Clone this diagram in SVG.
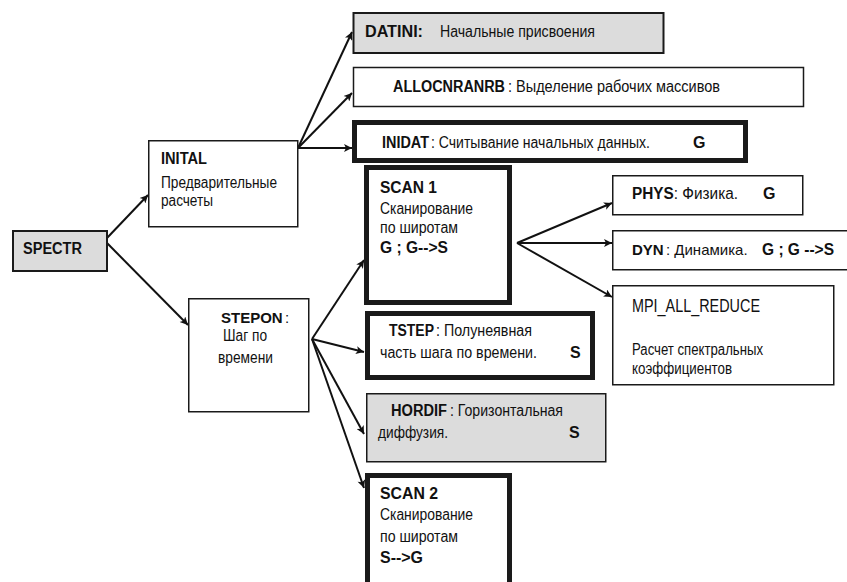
<svg xmlns="http://www.w3.org/2000/svg" width="847" height="582" viewBox="0 0 847 582">
<style>
  .box { fill: #ffffff; stroke: #1a1a1a; stroke-width: 1.5; }
  .gray { fill: #dcdcdc; }
  .mid { stroke-width: 2; }
  .thick { stroke-width: 5; }
  text { font-family: "Liberation Sans", Arial, sans-serif; font-size: 16px; fill: #111111; }
  .b { font-weight: bold; }
  .s15 { font-size: 15px; }
  .big { font-size: 18px; }
  .conn line { stroke: #111111; stroke-width: 2; fill: none; }
</style>
<defs>
  <marker id="ah" viewBox="0 0 10 10" refX="10" refY="5" markerWidth="10" markerHeight="8" markerUnits="userSpaceOnUse" orient="auto">
    <path d="M0,0 L10,5 L0,10 L2.5,5 z" fill="#111111"/>
  </marker>
</defs>
<rect width="847" height="582" fill="#ffffff"/>

<g id="connectors" class="conn">
  <line x1="107" y1="238" x2="148" y2="195" marker-end="url(#ah)"/>
  <line x1="107" y1="243" x2="188" y2="325" marker-end="url(#ah)"/>
  <line x1="298" y1="148" x2="352" y2="32" marker-end="url(#ah)"/>
  <line x1="298" y1="148" x2="352" y2="93" marker-end="url(#ah)"/>
  <line x1="298" y1="148" x2="352" y2="148" marker-end="url(#ah)"/>
  <line x1="312" y1="339" x2="364" y2="260" marker-end="url(#ah)"/>
  <line x1="312" y1="339" x2="364" y2="352" marker-end="url(#ah)"/>
  <line x1="312" y1="339" x2="364" y2="434" marker-end="url(#ah)"/>
  <line x1="312" y1="339" x2="364" y2="488" marker-end="url(#ah)"/>
  <line x1="517" y1="243" x2="612" y2="203" marker-end="url(#ah)"/>
  <line x1="517" y1="243" x2="612" y2="243" marker-end="url(#ah)"/>
  <line x1="517" y1="243" x2="612" y2="297" marker-end="url(#ah)"/>
</g>

<g id="spectr">
  <rect class="box gray mid" x="13" y="231" width="94" height="40"/>
  <text class="b" x="23" y="254" textLength="59" lengthAdjust="spacingAndGlyphs">SPECTR</text>
</g>

<g id="inital">
  <rect class="box" x="148.75" y="140.75" width="149" height="86"/>
  <text class="b" x="161" y="164" textLength="46" lengthAdjust="spacingAndGlyphs">INITAL</text>
  <text x="161" y="188" textLength="116" lengthAdjust="spacingAndGlyphs">Предварительные</text>
  <text x="161" y="206" textLength="52" lengthAdjust="spacingAndGlyphs">расчеты</text>
</g>

<g id="datini">
  <rect class="box gray mid" x="353.5" y="13" width="310" height="40"/>
  <text class="b" x="365" y="37" textLength="58" lengthAdjust="spacingAndGlyphs">DATINI:</text>
  <text x="440" y="37" textLength="155" lengthAdjust="spacingAndGlyphs">Начальные присвоения</text>
</g>

<g id="allocnranrb">
  <rect class="box" x="353.5" y="67.5" width="450" height="39"/>
  <text class="b" x="393" y="92" textLength="112" lengthAdjust="spacingAndGlyphs">ALLOCNRANRB</text>
  <text x="508" y="92" textLength="212" lengthAdjust="spacingAndGlyphs">:  Выделение рабочих массивов</text>
</g>

<g id="inidat">
  <rect class="box thick" x="354.5" y="122.5" width="391" height="38"/>
  <text class="b" x="382" y="148" textLength="47" lengthAdjust="spacingAndGlyphs">INIDAT</text>
  <text x="431" y="148" textLength="219" lengthAdjust="spacingAndGlyphs">: Считывание начальных данных.</text>
  <text class="b" x="693" y="148">G</text>
</g>

<g id="scan1">
  <rect class="box thick" x="366.5" y="167.5" width="143" height="135"/>
  <text class="b" x="380" y="193" textLength="57" lengthAdjust="spacingAndGlyphs">SCAN  1</text>
  <text x="380" y="214" textLength="93" lengthAdjust="spacingAndGlyphs">Сканирование</text>
  <text x="380" y="233" textLength="78" lengthAdjust="spacingAndGlyphs">по широтам</text>
  <text class="b" x="380" y="253" textLength="68" lengthAdjust="spacingAndGlyphs">G ; G--&gt;S</text>
</g>

<g id="phys">
  <rect class="box" x="612.75" y="175.75" width="190" height="39"/>
  <text x="632" y="199" textLength="106" lengthAdjust="spacingAndGlyphs"><tspan class="b">PHYS</tspan>: Физика.</text>
  <text class="b" x="763" y="199">G</text>
</g>

<g id="dyn">
  <rect class="box" x="612.75" y="230.75" width="250" height="39"/>
  <text class="b s15" x="632" y="255">DYN</text>
  <text class="s15" x="666" y="255">: Динамика.</text>
  <text class="b" x="762" y="255" textLength="72" lengthAdjust="spacingAndGlyphs">G ; G --&gt;S</text>
</g>

<g id="mpi_all_reduce">
  <rect class="box" x="612.75" y="285.75" width="221" height="99"/>
  <text class="big" x="632" y="312" textLength="128" lengthAdjust="spacingAndGlyphs">MPI_ALL_REDUCE</text>
  <text x="632" y="355" textLength="131" lengthAdjust="spacingAndGlyphs">Расчет спектральных</text>
  <text x="632" y="374" textLength="100" lengthAdjust="spacingAndGlyphs">коэффициентов</text>
</g>

<g id="stepon">
  <rect class="box" x="188.75" y="298.75" width="120" height="113"/>
  <text class="b s15" x="221" y="323">STEPON</text>
  <text class="s15" x="285" y="323">:</text>
  <text x="223" y="341" textLength="44" lengthAdjust="spacingAndGlyphs">Шаг по</text>
  <text x="218" y="363" textLength="55" lengthAdjust="spacingAndGlyphs">времени</text>
</g>

<g id="tstep">
  <rect class="box thick" x="367.5" y="313.5" width="225" height="64"/>
  <text class="b" x="389" y="336" textLength="45" lengthAdjust="spacingAndGlyphs">TSTEP</text>
  <text x="436" y="336" textLength="96" lengthAdjust="spacingAndGlyphs">: Полунеявная</text>
  <text x="380" y="358" textLength="157" lengthAdjust="spacingAndGlyphs">часть шага по времени.</text>
  <text class="b" x="570" y="358">S</text>
</g>

<g id="hordif">
  <rect class="box gray" x="366.75" y="393.75" width="239" height="68"/>
  <text class="b" x="391" y="416" textLength="56" lengthAdjust="spacingAndGlyphs">HORDIF</text>
  <text x="450" y="416" textLength="113" lengthAdjust="spacingAndGlyphs">: Горизонтальная</text>
  <text x="378" y="438" textLength="70" lengthAdjust="spacingAndGlyphs">диффузия.</text>
  <text class="b" x="569" y="438">S</text>
</g>

<g id="scan2">
  <rect class="box thick" x="367.5" y="475.5" width="142" height="125"/>
  <text class="b" x="380" y="499" textLength="58" lengthAdjust="spacingAndGlyphs">SCAN  2</text>
  <text x="380" y="520" textLength="93" lengthAdjust="spacingAndGlyphs">Сканирование</text>
  <text x="380" y="542" textLength="78" lengthAdjust="spacingAndGlyphs">по широтам</text>
  <text class="b" x="380" y="563" textLength="43" lengthAdjust="spacingAndGlyphs">S--&gt;G</text>
</g>
</svg>
